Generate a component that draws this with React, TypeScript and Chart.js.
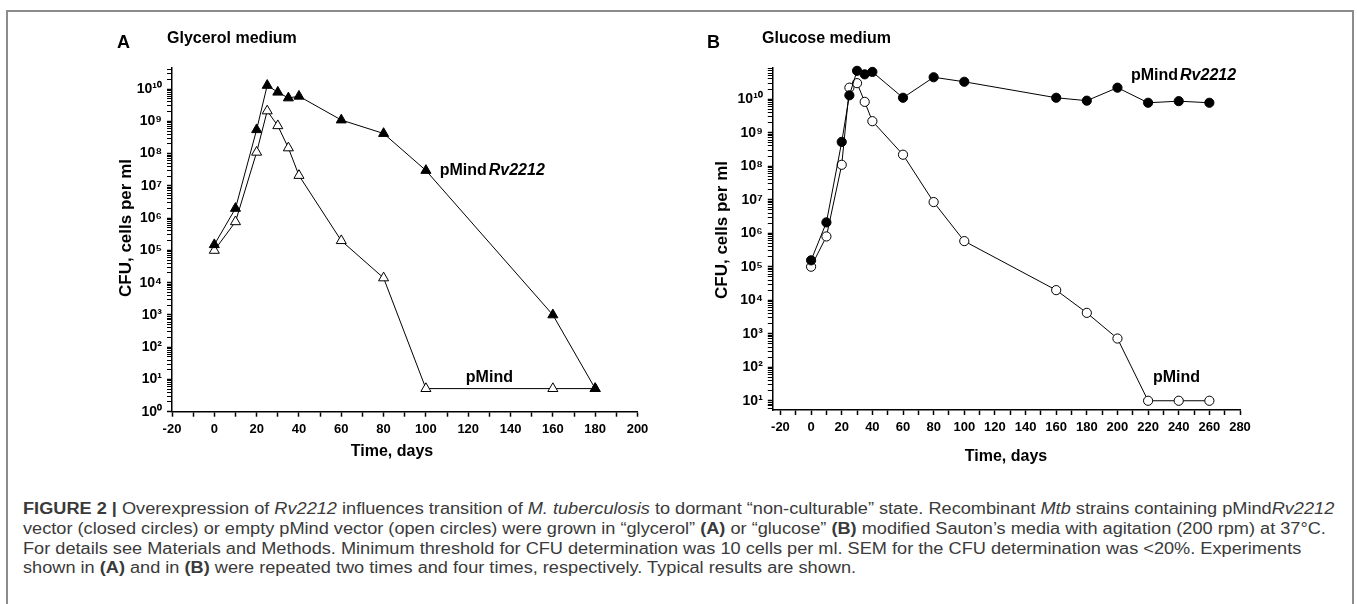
import React, { useEffect, useRef } from "react";
import { Chart, registerables } from "chart.js";

Chart.register(...registerables);

// ---------------- data ----------------
// Panel A: glycerol medium (triangles)
const daysA = [0, 10, 20, 25, 30, 35, 40, 60, 80, 100, 160, 180];
const glycerolRv2212 = [1.5e5, 2e6, 5.5e8, 1.3e10, 8e9, 5.3e9, 6e9, 1.1e9, 4.2e8, 3e7, 1e3, 5.2];
const glycerolEmpty = [1e5, 7.7e5, 1.1e8, 2.1e9, 7.3e8, 1.5e8, 2.1e7, 2e5, 1.4e4, 5.2, 5.2, 5.2];

// Panel B: glucose medium (circles)
const daysB = [0, 10, 20, 25, 30, 35, 40, 60, 80, 100, 160, 180, 200, 220, 240, 260];
const glucoseRv2212 = [1.55e5, 2.1e6, 5.3e8, 1.3e10, 7e10, 5.5e10, 6.5e10, 1.1e10, 4.5e10, 3.3e10, 1.1e10, 9e9, 2.2e10, 7.8e9, 8.7e9, 7.8e9];
const glucoseEmpty = [1e5, 8e5, 1.1e8, 2.2e10, 3e10, 8.3e9, 2.2e9, 2.2e8, 8.5e6, 5.8e5, 2e4, 4.2e3, 7.2e2, 10, 10, 10];

// x tick values (labels shown every 20 days)
const xTicksA = [-20, -10, 0, 10, 20, 30, 40, 50, 60, 70, 80, 90, 100, 110, 120, 130, 140, 150, 160, 170, 180, 190, 200];
const xTicksB = [-20, -10, 0, 10, 20, 30, 40, 50, 60, 70, 80, 90, 100, 110, 120, 130, 140, 150, 160, 170, 180, 190, 200, 210, 220, 230, 240, 250, 260, 270, 280];

const seriesNames = ["pMind", "Rv2212"];
const yTitle = "CFU, cells per ml";
const xTitle = "Time, days";

const FONT = "'Liberation Sans', Arial, Helvetica, sans-serif";
const SUP: Record<string, string> = { "0": "⁰", "1": "¹", "2": "²", "3": "³", "4": "⁴", "5": "⁵", "6": "⁶", "7": "⁷", "8": "⁸", "9": "⁹", "-": "⁻" };

function logTicks(min: number, max: number) {
  const out: { value: number; major: boolean }[] = [];
  for (let e = Math.floor(Math.log10(min)); e <= Math.ceil(Math.log10(max)); e++) {
    for (let m = 1; m <= 9; m++) {
      const v = m * Math.pow(10, e);
      if (v >= min * 0.9999 && v <= max * 1.0001) out.push({ value: v, major: m === 1 });
    }
  }
  return out;
}

function decadeLabel(v: number) {
  const e = Math.round(Math.log10(v));
  if (Math.abs(v / Math.pow(10, e) - 1) > 1e-6) return "";
  return "10" + String(e).split("").map((c) => SUP[c]).join("");
}

type PanelCfg = {
  letter: string;
  title: string;
  days: number[];
  filled: number[];
  open: number[];
  marker: "triangle" | "circle";
  radius: number;
  xMin: number;
  xMax: number;
  xTicks: number[];
  yMin: number;
  yMax: number;
  padding: { left: number; right: number; top: number; bottom: number };
  yWidth: number;
  xHeight: number;
  text: {
    letter: [number, number];
    title: [number, number];
    yTitle: [number, number];
    xTitle: [number, number];
    rvLabel: [number, number];
    emptyLabel: [number, number];
  };
};

const panelA: PanelCfg = {
  letter: "A",
  title: "Glycerol medium",
  days: daysA,
  filled: glycerolRv2212,
  open: glycerolEmpty,
  marker: "triangle",
  radius: 5.8,
  xMin: -20,
  xMax: 200,
  xTicks: xTicksA,
  yMin: 1,
  yMax: 4.5e10,
  padding: { left: 105, right: 42.5, top: 68, bottom: 0 },
  yWidth: 67,
  xHeight: 68.3,
  text: {
    letter: [117, 48],
    title: [167, 43],
    yTitle: [126, 228],
    xTitle: [392, 456],
    rvLabel: [106.5, 2.9e7],
    emptyLabel: [130, 11.5],
  },
};

const panelB: PanelCfg = {
  letter: "B",
  title: "Glucose medium",
  days: daysB,
  filled: glucoseRv2212,
  open: glucoseEmpty,
  marker: "circle",
  radius: 4.6,
  xMin: -25,
  xMax: 280,
  xTicks: xTicksB,
  yMin: 5.3,
  yMax: 8.5e10,
  padding: { left: 40, right: 117, top: 68, bottom: 0 },
  yWidth: 52.8,
  xHeight: 70,
  text: {
    letter: [27, 48],
    title: [82, 43],
    yTitle: [42, 230],
    xTitle: [326, 461],
    rvLabel: [208.8, 5e10],
    emptyLabel: [238.5, 49.5],
  },
};

function textPlugin(p: PanelCfg) {
  return {
    id: "panelText" + p.letter,
    afterDraw(chart: any) {
      const ctx: CanvasRenderingContext2D = chart.ctx;
      const t = p.text;
      ctx.save();
      ctx.fillStyle = "#000";
      ctx.textAlign = "left";
      ctx.textBaseline = "alphabetic";
      ctx.font = `bold 18px ${FONT}`;
      ctx.fillText(p.letter, t.letter[0], t.letter[1]);
      ctx.font = `bold 16px ${FONT}`;
      ctx.fillText(p.title, t.title[0], t.title[1]);

      ctx.textAlign = "center";
      ctx.font = `bold 16px ${FONT}`;
      ctx.fillText(xTitle, t.xTitle[0], t.xTitle[1]);

      ctx.save();
      ctx.translate(t.yTitle[0], t.yTitle[1]);
      ctx.rotate(-Math.PI / 2);
      ctx.textAlign = "center";
      ctx.textBaseline = "middle";
      ctx.font = `bold 17px ${FONT}`;
      ctx.fillText(yTitle, 0, 0);
      ctx.restore();

      const xs = chart.scales.x;
      const ys = chart.scales.y;
      // pMindRv2212 label
      let px = xs.getPixelForValue(t.rvLabel[0]);
      let py = ys.getPixelForValue(t.rvLabel[1]);
      ctx.textAlign = "left";
      ctx.textBaseline = "middle";
      ctx.font = `bold 16px ${FONT}`;
      ctx.fillText(seriesNames[0], px, py);
      const w = ctx.measureText(seriesNames[0]).width;
      ctx.font = `italic bold 16px ${FONT}`;
      ctx.fillText(seriesNames[1], px + w + 2, py);
      // pMind label
      px = xs.getPixelForValue(t.emptyLabel[0]);
      py = ys.getPixelForValue(t.emptyLabel[1]);
      ctx.textAlign = "center";
      ctx.font = `bold 16px ${FONT}`;
      ctx.fillText(seriesNames[0], px, py);
      ctx.restore();
    },
  };
}

function buildConfig(p: PanelCfg): any {
  const common = {
    borderColor: "#000",
    borderWidth: 1,
    pointStyle: p.marker,
    pointRadius: p.radius,
    pointBorderColor: "#000",
    pointBorderWidth: 1,
    tension: 0,
    fill: false,
    clip: false,
  };
  const zeroPad = (s: any) => {
    s.paddingLeft = 0;
    s.paddingRight = 0;
    s.paddingTop = 0;
    s.paddingBottom = 0;
  };
  return {
    type: "line",
    data: {
      datasets: [
        {
          ...common,
          label: seriesNames.join(""),
          data: p.days.map((d, i) => ({ x: d, y: p.filled[i] })),
          pointBackgroundColor: "#000",
        },
        {
          ...common,
          label: seriesNames[0],
          data: p.days.map((d, i) => ({ x: d, y: p.open[i] })),
          pointBackgroundColor: "#fff",
        },
      ],
    },
    options: {
      responsive: false,
      animation: false,
      events: [],
      layout: { padding: p.padding },
      plugins: { legend: { display: false }, tooltip: { enabled: false }, title: { display: false } },
      scales: {
        x: {
          type: "linear",
          min: p.xMin,
          max: p.xMax,
          afterBuildTicks: (s: any) => {
            s.ticks = p.xTicks.map((v) => ({ value: v }));
          },
          afterFit: (s: any) => {
            s.height = p.xHeight;
            zeroPad(s);
          },
          ticks: {
            autoSkip: false,
            maxRotation: 0,
            padding: 5,
            color: "#000",
            font: { family: FONT, size: 13, weight: "bold" },
            callback: (v: number) => (v % 20 === 0 ? String(v) : ""),
          },
          grid: { drawOnChartArea: false, drawTicks: true, tickLength: 5, tickColor: "#000", tickWidth: 1.5 },
          border: { display: true, color: "#000", width: 1.5 },
        },
        y: {
          type: "logarithmic",
          min: p.yMin,
          max: p.yMax,
          afterBuildTicks: (s: any) => {
            s.ticks = logTicks(p.yMin, p.yMax);
          },
          afterFit: (s: any) => {
            s.width = p.yWidth;
            zeroPad(s);
          },
          ticks: {
            autoSkip: false,
            padding: 5,
            color: "#000",
            font: { family: FONT, size: 14, weight: "bold" },
            callback: (v: number) => decadeLabel(v),
          },
          grid: {
            drawOnChartArea: false,
            drawTicks: true,
            tickLength: 5,
            tickColor: "#000",
            tickWidth: (c: any) => (c.tick && c.tick.major ? 1.5 : 1),
          },
          border: { display: true, color: "#000", width: 1.5 },
        },
      },
    },
    plugins: [textPlugin(p)],
  };
}

const captionLineStyle: React.CSSProperties = {
  position: "absolute",
  left: 23,
  whiteSpace: "nowrap",
  fontFamily: FONT,
  fontSize: 16,
  lineHeight: "20px",
  color: "#3a3a3a",
  transform: "scaleX(1.135)",
  transformOrigin: "0 50%",
};

export default function App() {
  const refA = useRef<HTMLCanvasElement>(null);
  const refB = useRef<HTMLCanvasElement>(null);

  useEffect(() => {
    const a = new Chart(refA.current as HTMLCanvasElement, buildConfig(panelA));
    const b = new Chart(refB.current as HTMLCanvasElement, buildConfig(panelB));
    return () => {
      a.destroy();
      b.destroy();
    };
  }, []);

  return (
    <div style={{ position: "absolute", left: 0, top: 0, width: 1357, height: 604, overflow: "hidden", background: "#fff" }}>
      <div
        style={{
          position: "absolute",
          left: 6,
          top: 10,
          width: 1348,
          height: 700,
          border: "2px solid #8c8c8c",
          boxSizing: "border-box",
        }}
      />
      <canvas ref={refA} width={680} height={480} style={{ position: "absolute", left: 0, top: 0 }} />
      <canvas ref={refB} width={677} height={480} style={{ position: "absolute", left: 680, top: 0 }} />

      <div style={{ ...captionLineStyle, top: 499 }}>
        <b>FIGURE 2 |</b> Overexpression of <i>Rv2212</i> influences transition of <i>M. tuberculosis</i> to dormant “non-culturable” state. Recombinant <i>Mtb</i> strains containing pMind<i>Rv2212</i>
      </div>
      <div style={{ ...captionLineStyle, top: 519 }}>
        vector (closed circles) or empty pMind vector (open circles) were grown in “glycerol” <b>(A)</b> or “glucose” <b>(B)</b> modified Sauton’s media with agitation (200 rpm) at 37°C.
      </div>
      <div style={{ ...captionLineStyle, top: 539 }}>
        For details see Materials and Methods. Minimum threshold for CFU determination was 10 cells per ml. SEM for the CFU determination was &lt;20%. Experiments
      </div>
      <div style={{ ...captionLineStyle, top: 558 }}>
        shown in <b>(A)</b> and in <b>(B)</b> were repeated two times and four times, respectively. Typical results are shown.
      </div>
    </div>
  );
}
